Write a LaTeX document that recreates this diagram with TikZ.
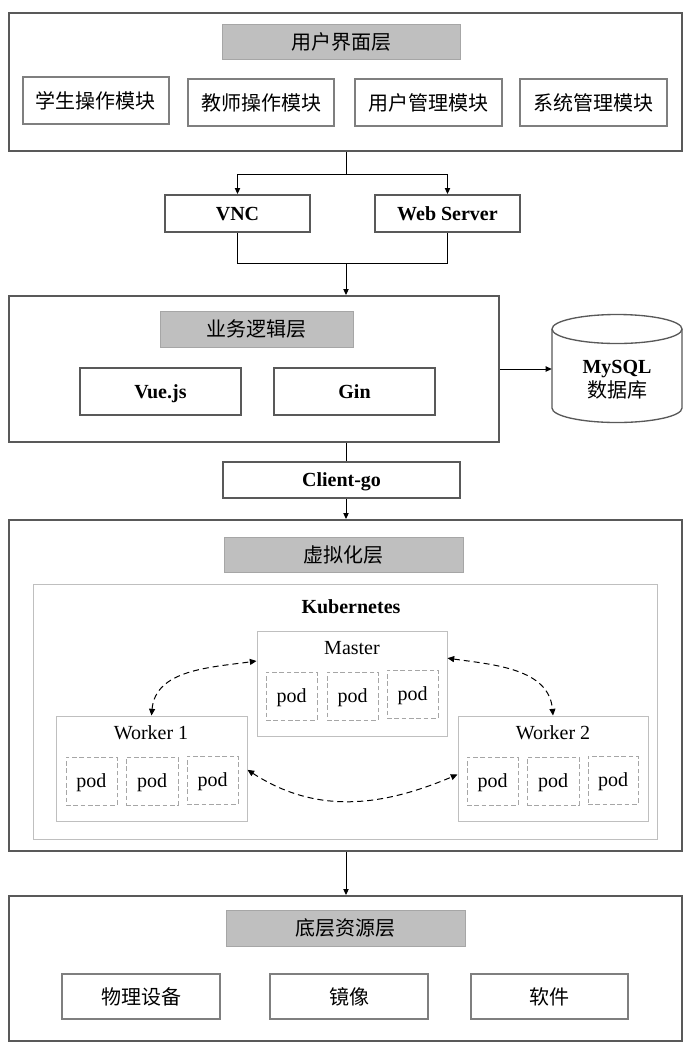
\documentclass[tikz,border=0pt]{standalone}
\usepackage{fontspec}
\setmainfont{Liberation Serif}
\newfontfamily\cjk{Noto Sans CJK SC}
\usetikzlibrary{arrows.meta,calc}
\definecolor{cdark}{HTML}{595959}
\definecolor{cmod}{HTML}{7F7F7F}
\definecolor{ctfill}{HTML}{BFBFBF}
\definecolor{ctline}{HTML}{A6A6A6}
\definecolor{clight}{HTML}{BFBFBF}
\definecolor{cpod}{HTML}{A6A6A6}
\newcommand\mybox[7]{\node[#6,inner sep=0pt,minimum width={(#4-#2)*0.75pt},minimum height={(#5-#3)*0.75pt}] (#1) at ({(#2+#4)/2},{(#3+#5)/2}) {#7};}
\begin{document}
\begin{tikzpicture}[x=0.75pt,y=-0.75pt,
  layerbox/.style={draw=cdark,line width=1.5pt,fill=white},
  titlebox/.style={draw=ctline,line width=0.75pt,fill=ctfill,font=\cjk\fontsize{15}{18}\selectfont},
  modbox/.style={draw=cmod,line width=1.5pt,fill=white,font=\cjk\fontsize{15}{18}\selectfont},
  techbox/.style={draw=cdark,line width=1.5pt,fill=white,font=\bfseries\fontsize{15}{18}\selectfont,text height=10pt,text depth=0pt},
  kbox/.style={draw=clight,line width=0.75pt},
  podbox/.style={draw=cpod,line width=0.75pt,dash pattern=on 3.5pt off 2pt,font=\fontsize{15}{18}\selectfont,text height=9pt,text depth=0pt},
  lbl/.style={font=\fontsize{15}{18}\selectfont,inner sep=0pt},
  blbl/.style={font=\bfseries\fontsize{15}{18}\selectfont,inner sep=0pt,text height=10pt,text depth=0pt},
  conn/.style={line width=0.75pt,draw=black},
  arr/.style={conn,-{Triangle[length=4.5pt,width=4pt]}},
  darr/.style={line width=0.75pt,dash pattern=on 4.5pt off 3pt,{Triangle[length=5pt,width=4.5pt]}-{Triangle[length=5pt,width=4.5pt]}}
]
\useasboundingbox (0,0) rectangle (691,1051);
\fill[white] (0,0) rectangle (691,1051);

% layer frames
\mybox{L1}{9}{13}{682}{151}{layerbox}{}
\mybox{L2}{9}{296}{499}{442}{layerbox}{}
\mybox{L3}{9}{520}{682}{851}{layerbox}{}
\mybox{L4}{9}{896}{682}{1041}{layerbox}{}

% user interface layer
\mybox{T1}{222}{24}{460}{59}{titlebox}{用户界面层}
\mybox{m1}{23}{77}{169}{124}{modbox}{学生操作模块}
\mybox{m2}{188}{79}{334}{126}{modbox}{教师操作模块}
\mybox{m3}{355}{79}{502}{126}{modbox}{用户管理模块}
\mybox{m4}{520}{79}{667}{126}{modbox}{系统管理模块}

% VNC / Web server
\mybox{vnc}{165}{195}{310}{232}{techbox}{VNC}
\mybox{ws}{375}{195}{520}{232}{techbox}{Web Server}

% business layer
\mybox{T2}{160}{311}{353}{347}{titlebox}{业务逻辑层}
\mybox{vue}{80}{368}{241}{415}{techbox}{Vue.js}
\mybox{gin}{274}{368}{435}{415}{techbox}{Gin}

% MySQL cylinder
\mybox{mysql}{552}{315}{682}{422}{}{}
\draw[draw=cdark,line width=1pt,fill=white] (552,329) -- (552,408) arc[start angle=180,end angle=360,x radius=48.75pt,y radius=10.875pt] -- (682,329);
\draw[draw=cdark,line width=1pt,fill=white] (617,329) ellipse [x radius=48.75pt,y radius=10.875pt];
\node[blbl] (mysqlt) at (617,367) {MySQL};
\node[font=\cjk\fontsize{15}{18}\selectfont,inner sep=0pt] (mysqlc) at (617,390) {数据库};

% client-go
\mybox{cg}{223}{462}{460}{498}{techbox}{Client-go}

% virtualization layer
\mybox{T3}{224}{537}{463}{572}{titlebox}{虚拟化层}
\mybox{k8s}{33}{584}{657}{839}{kbox}{}
\node[blbl] (k8st) at (351,607) {Kubernetes};

\mybox{master}{257}{631}{447}{736}{kbox}{}
\node[lbl] (mastert) at (352,648) {Master};
\mybox{mp1}{266}{672}{317}{720}{podbox}{pod}
\mybox{mp2}{327}{672}{378}{720}{podbox}{pod}
\mybox{mp3}{387}{670}{438}{718}{podbox}{pod}

\mybox{w1}{56}{716}{247}{821}{kbox}{}
\node[lbl] (w1t) at (151,733) {Worker 1};
\mybox{wa1}{66}{757}{117}{805}{podbox}{pod}
\mybox{wa2}{126}{757}{178}{805}{podbox}{pod}
\mybox{wa3}{187}{756}{238}{804}{podbox}{pod}

\mybox{w2}{458}{716}{648}{821}{kbox}{}
\node[lbl] (w2t) at (553,733) {Worker 2};
\mybox{wb1}{467}{757}{518}{805}{podbox}{pod}
\mybox{wb2}{527}{757}{579}{805}{podbox}{pod}
\mybox{wb3}{588}{756}{638}{804}{podbox}{pod}

% resource layer
\mybox{T4}{226}{910}{465}{946}{titlebox}{底层资源层}
\mybox{r1}{62}{974}{220}{1019}{modbox}{物理设备}
\mybox{r2}{270}{974}{428}{1019}{modbox}{镜像}
\mybox{r3}{471}{974}{628}{1019}{modbox}{软件}

% connectors
\coordinate (s1) at (346,174);
\coordinate (s2) at (346,263);
\draw[conn] (s1 |- L1.south) -- (s1);
\draw[arr] (s1) -| (vnc.north);
\draw[arr] (s1) -| (ws.north);
\draw[conn] (vnc.south) |- (s2);
\draw[conn] (ws.south) |- (s2);
\draw[arr] (s2) -- (s2 |- L2.north);
\draw[arr] (L2.east) -- (L2.east -| mysql.west);
\draw[conn] (s2 |- L2.south) -- (s2 |- cg.north);
\draw[arr] (s2 |- cg.south) -- (s2 |- L3.north);
\draw[arr] (s2 |- L3.south) -- (s2 |- L4.north);

% kubernetes dashed links
\draw[darr] (w1.north) to[out=85,in=188] ([yshift=16.9pt]master.west);
\draw[darr] ([yshift=19pt]master.east) to[out=-8,in=95] (w2.north);
\draw[darr] ([yshift=-1pt]w1.east) to[out=-33,in=203] ([yshift=-4.5pt]w2.west);
\end{tikzpicture}
\end{document}
